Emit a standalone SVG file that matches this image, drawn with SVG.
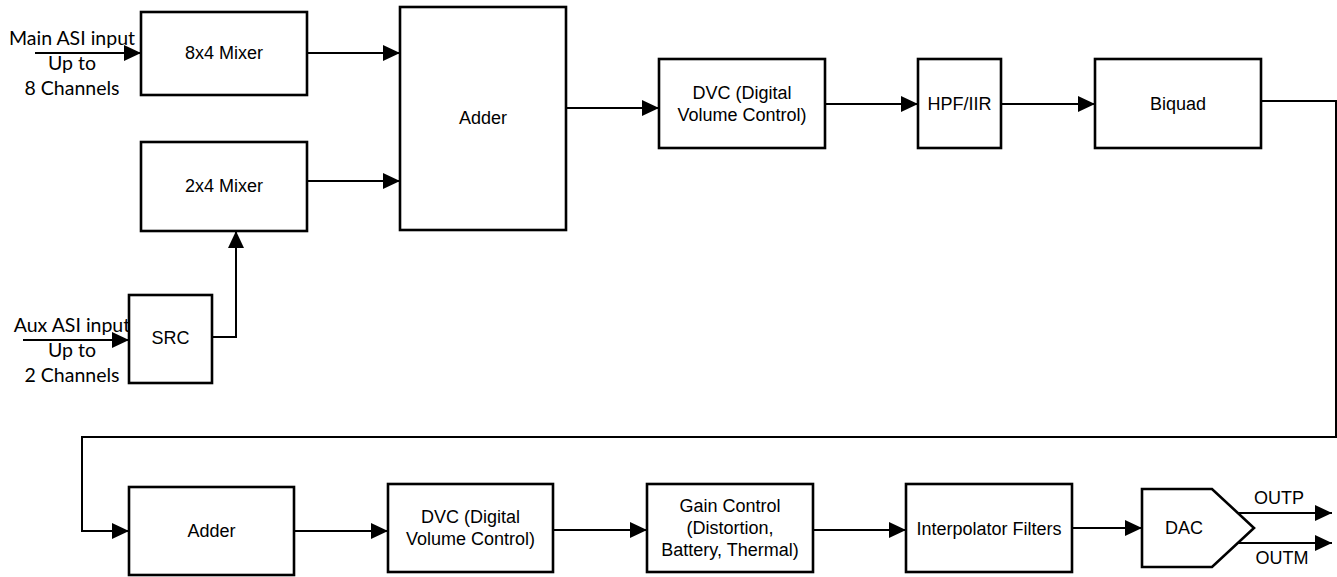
<svg xmlns="http://www.w3.org/2000/svg" width="1337" height="577" viewBox="0 0 1337 577">
<defs>
<style>
.box{fill:#fff;stroke:#000;stroke-width:2.6}
.t{font-family:"Liberation Sans",Arial,sans-serif;font-size:18px;fill:#000;text-anchor:middle;dominant-baseline:central}
.lbl{font-family:Lato,"Open Sans",sans-serif;font-size:19.5px;fill:#000;text-anchor:middle}
.ln{fill:none;stroke:#000;stroke-width:2}
</style>
<marker id="ah" markerUnits="userSpaceOnUse" markerWidth="17" markerHeight="16" refX="17" refY="8" orient="auto">
<path d="M0,0 L17,8 L0,16 Z" fill="#000"/>
</marker>
</defs>
<rect width="1337" height="577" fill="#fff"/>
<g id="connectors">
<path class="ln" d="M35,53 H141" marker-end="url(#ah)"/>
<path class="ln" d="M307,53 H400" marker-end="url(#ah)"/>
<path class="ln" d="M307,181 H400" marker-end="url(#ah)"/>
<path class="ln" d="M23,340 H129" marker-end="url(#ah)"/>
<path class="ln" d="M212,337 H236 V231" marker-end="url(#ah)"/>
<path class="ln" d="M566,108 H659" marker-end="url(#ah)"/>
<path class="ln" d="M825,104 H918" marker-end="url(#ah)"/>
<path class="ln" d="M1001,104 H1095" marker-end="url(#ah)"/>
<path class="ln" d="M1261,101 H1336 V437 H82 V531 H129" stroke-width="1.6" marker-end="url(#ah)"/>
<path class="ln" d="M294,531 H388" marker-end="url(#ah)"/>
<path class="ln" d="M553,530 H647" marker-end="url(#ah)"/>
<path class="ln" d="M813,530 H906" marker-end="url(#ah)"/>
<path class="ln" d="M1072,528 H1142" marker-end="url(#ah)"/>
<path class="ln" d="M1238,513 H1332" marker-end="url(#ah)"/>
<path class="ln" d="M1238,543 H1332" marker-end="url(#ah)"/>
</g>
<g id="main-input-label">
<text class="lbl" x="72" y="45">Main ASI input</text>
<text class="lbl" x="72" y="70">Up to</text>
<text class="lbl" x="72" y="95">8 Channels</text>
</g>
<g id="aux-input-label">
<text class="lbl" x="72" y="332">Aux ASI input</text>
<text class="lbl" x="72" y="357">Up to</text>
<text class="lbl" x="72" y="382">2 Channels</text>
</g>
<g id="mixer8x4"><rect class="box" x="141" y="12" width="166" height="83"/><text class="t" x="224" y="53">8x4 Mixer</text></g>
<g id="mixer2x4"><rect class="box" x="141" y="142" width="166" height="89"/><text class="t" x="224" y="186">2x4 Mixer</text></g>
<g id="src"><rect class="box" x="129" y="295" width="83" height="88"/><text class="t" x="170.5" y="338">SRC</text></g>
<g id="adder1"><rect class="box" x="400" y="7" width="166" height="223"/><text class="t" x="483" y="118">Adder</text></g>
<g id="dvc1"><rect class="box" x="659" y="59" width="166" height="89"/><text class="t" x="742" y="93">DVC (Digital</text><text class="t" x="742" y="115">Volume Control)</text></g>
<g id="hpf"><rect class="box" x="918" y="59" width="83" height="89"/><text class="t" x="959.5" y="104">HPF/IIR</text></g>
<g id="biquad"><rect class="box" x="1095" y="59" width="166" height="89"/><text class="t" x="1178" y="104">Biquad</text></g>
<g id="adder2"><rect class="box" x="129" y="487" width="165" height="88"/><text class="t" x="211.5" y="531">Adder</text></g>
<g id="dvc2"><rect class="box" x="388" y="484" width="165" height="88"/><text class="t" x="470.5" y="517">DVC (Digital</text><text class="t" x="470.5" y="539">Volume Control)</text></g>
<g id="gain"><rect class="box" x="647" y="484" width="166" height="88"/><text class="t" x="730" y="506">Gain Control</text><text class="t" x="730" y="528">(Distortion,</text><text class="t" x="730" y="550">Battery, Thermal)</text></g>
<g id="interp"><rect class="box" x="906" y="484" width="166" height="88"/><text class="t" x="989" y="529">Interpolator Filters</text></g>
<g id="dac"><path class="box" d="M1142,489 H1212 L1254,528 L1212,567 H1142 Z"/><text class="t" x="1184" y="528">DAC</text></g>
<g id="outputs">
<text class="t" x="1279" y="498">OUTP</text>
<text class="t" x="1282" y="558">OUTM</text>
</g>
</svg>
